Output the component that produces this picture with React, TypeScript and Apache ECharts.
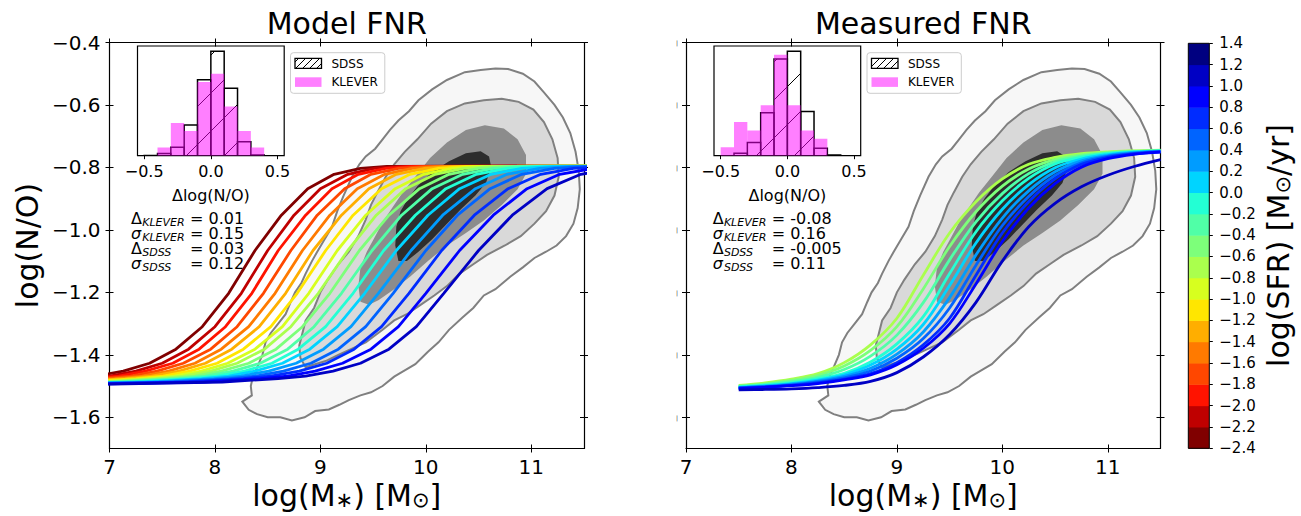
import { useEffect, useRef } from 'react';
import * as echarts from 'echarts';

const FONT = 'DejaVu Sans';

// ---------- axes ----------
const massRange = [7, 11.5];
const noRange = [-1.7, -0.4];
const massTicks = [7, 8, 9, 10, 11];
const noTicks = [-1.6, -1.4, -1.2, -1.0, -0.8, -0.6, -0.4];

// ---------- SFR colour scale (discrete, 0.2 dex bins) ----------
const sfrEdges = [-2.4, -2.2, -2.0, -1.8, -1.6, -1.4, -1.2, -1.0, -0.8, -0.6, -0.4, -0.2, 0.0, 0.2, 0.4, 0.6, 0.8, 1.0, 1.2, 1.4];
const sfrColors = ['#800000', '#bf0000', '#ff1300', '#ff4700', '#ff7a00', '#ffae00', '#ffe600', '#d7ff1f', '#aaff4d', '#7dff7a', '#50ffa7', '#23ffd4', '#00d4ff', '#009cff', '#0064ff', '#002cff', '#0000ff', '#0000c4', '#000080'];

// ---------- Model FNR curves ----------
const modelSfr = [-2.3, -2.1, -1.9, -1.7, -1.5, -1.3, -1.1, -0.9, -0.7, -0.5, -0.3, -0.1, 0.1, 0.3, 0.5, 0.7, 0.9, 1.1];
// log(N/O) levels through which each model curve passes
const modelNOLevels = [-1.494, -1.487, -1.476, -1.468, -1.452, -1.427, -1.382, -1.31, -1.203, -1.066, -0.953, -0.868, -0.822, -0.803, -0.797];
// stellar mass at which each curve reaches those levels
const modelMass = [
  [5.13, 6.13, 6.63, 6.88, 7.13, 7.38, 7.63, 7.88, 8.13, 8.38, 8.63, 8.88, 9.13, 9.38, 9.63],
  [5.24, 6.24, 6.75, 7.0, 7.25, 7.5, 7.75, 8.0, 8.25, 8.5, 8.75, 9.0, 9.26, 9.51, 9.76],
  [5.33, 6.34, 6.84, 7.09, 7.34, 7.6, 7.85, 8.1, 8.35, 8.6, 8.86, 9.11, 9.36, 9.62, 9.87],
  [5.43, 6.44, 6.95, 7.2, 7.45, 7.7, 7.96, 8.21, 8.46, 8.72, 8.97, 9.23, 9.48, 9.74, 10.0],
  [5.53, 6.55, 7.05, 7.31, 7.56, 7.81, 8.06, 8.32, 8.57, 8.83, 9.09, 9.35, 9.61, 9.87, 10.13],
  [5.63, 6.64, 7.15, 7.4, 7.66, 7.91, 8.16, 8.42, 8.67, 8.93, 9.2, 9.46, 9.72, 9.99, 10.25],
  [5.73, 6.74, 7.25, 7.51, 7.76, 8.02, 8.27, 8.53, 8.78, 9.05, 9.31, 9.58, 9.85, 10.12, 10.38],
  [5.83, 6.85, 7.36, 7.61, 7.87, 8.12, 8.38, 8.64, 8.89, 9.16, 9.43, 9.71, 9.98, 10.25, 10.52],
  [5.91, 6.93, 7.44, 7.7, 7.96, 8.21, 8.47, 8.72, 8.98, 9.26, 9.53, 9.81, 10.09, 10.36, 10.64],
  [6.01, 7.04, 7.55, 7.81, 8.06, 8.32, 8.58, 8.83, 9.09, 9.37, 9.65, 9.94, 10.22, 10.5, 10.78],
  [6.11, 7.14, 7.66, 7.91, 8.17, 8.43, 8.69, 8.94, 9.2, 9.49, 9.77, 10.06, 10.35, 10.64, 10.92],
  [6.21, 7.24, 7.76, 8.02, 8.28, 8.54, 8.79, 9.05, 9.31, 9.6, 9.9, 10.19, 10.48, 10.77, 11.07],
  [6.31, 7.35, 7.87, 8.13, 8.38, 8.64, 8.9, 9.16, 9.42, 9.72, 10.02, 10.32, 10.62, 10.91, 11.21],
  [6.43, 7.47, 7.99, 8.25, 8.51, 8.77, 9.03, 9.29, 9.55, 9.86, 10.16, 10.47, 10.77, 11.08, 11.38],
  [6.56, 7.61, 8.13, 8.39, 8.65, 8.91, 9.17, 9.43, 9.69, 10.0, 10.3, 10.61, 10.91, 11.22, 11.53],
  [6.71, 7.75, 8.27, 8.53, 8.8, 9.06, 9.32, 9.58, 9.84, 10.15, 10.46, 10.78, 11.09, 11.4, 11.71],
  [6.86, 7.9, 8.43, 8.69, 8.95, 9.21, 9.48, 9.74, 10.0, 10.32, 10.64, 10.96, 11.27, 11.59, 11.91],
  [7.02, 8.07, 8.6, 8.86, 9.12, 9.38, 9.65, 9.91, 10.17, 10.5, 10.82, 11.15, 11.47, 11.8, 12.12],
];
const modelLowTail = [4.5, -1.495];
const modelPlateau = [12.5, -0.795];

// ---------- Measured FNR curves ----------
const measuredSfr = [-0.7, -0.5, -0.3, -0.1, 0.1, 0.3, 0.5, 0.7, 0.9, 1.1];
const measuredMass = [7.5, 7.75, 8.0, 8.25, 8.5, 8.75, 9.0, 9.25, 9.5, 9.75, 10.0, 10.25, 10.5, 10.75, 11.0, 11.25, 11.5];
const measuredNO = [
  [-1.498, -1.49, -1.478, -1.46, -1.425, -1.368, -1.283, -1.145, -1.01, -0.91, -0.837, -0.79, -0.768, -0.756, -0.75, -0.747, -0.745],
  [-1.5, -1.493, -1.482, -1.466, -1.436, -1.386, -1.31, -1.189, -1.053, -0.942, -0.86, -0.805, -0.775, -0.76, -0.752, -0.748, -0.746],
  [-1.501, -1.495, -1.486, -1.472, -1.447, -1.404, -1.337, -1.233, -1.096, -0.974, -0.884, -0.82, -0.782, -0.764, -0.754, -0.749, -0.746],
  [-1.503, -1.498, -1.49, -1.477, -1.459, -1.423, -1.365, -1.278, -1.14, -1.006, -0.907, -0.835, -0.789, -0.768, -0.756, -0.75, -0.747],
  [-1.504, -1.499, -1.492, -1.481, -1.464, -1.433, -1.382, -1.303, -1.178, -1.042, -0.934, -0.855, -0.801, -0.773, -0.759, -0.751, -0.748],
  [-1.505, -1.501, -1.494, -1.484, -1.469, -1.443, -1.398, -1.327, -1.217, -1.08, -0.962, -0.875, -0.814, -0.779, -0.762, -0.753, -0.749],
  [-1.506, -1.502, -1.496, -1.487, -1.474, -1.452, -1.411, -1.348, -1.25, -1.113, -0.986, -0.893, -0.826, -0.785, -0.765, -0.755, -0.749],
  [-1.507, -1.503, -1.498, -1.49, -1.478, -1.46, -1.425, -1.368, -1.283, -1.145, -1.01, -0.91, -0.837, -0.79, -0.768, -0.756, -0.75],
  [-1.508, -1.504, -1.499, -1.492, -1.48, -1.464, -1.432, -1.379, -1.3, -1.173, -1.037, -0.93, -0.852, -0.799, -0.772, -0.758, -0.751],
  [-1.512, -1.511, -1.509, -1.505, -1.498, -1.485, -1.457, -1.407, -1.335, -1.232, -1.1, -0.99, -0.915, -0.862, -0.825, -0.797, -0.775],
];

// ---------- SDSS density contours ----------
const contourOuter = [[8.26, -1.55], [8.35, -1.53], [8.34, -1.5], [8.36, -1.47], [8.4, -1.44], [8.45, -1.4], [8.48, -1.36], [8.53, -1.33], [8.6, -1.3], [8.67, -1.27], [8.72, -1.23], [8.76, -1.2], [8.82, -1.17], [8.86, -1.14], [8.92, -1.1], [8.97, -1.07], [9.04, -1.03], [9.11, -0.99], [9.16, -0.94], [9.22, -0.89], [9.3, -0.83], [9.37, -0.79], [9.43, -0.765], [9.52, -0.74], [9.59, -0.71], [9.66, -0.68], [9.74, -0.65], [9.84, -0.62], [9.93, -0.585], [10.06, -0.55], [10.2, -0.52], [10.37, -0.495], [10.52, -0.488], [10.66, -0.483], [10.78, -0.485], [10.92, -0.5], [11.03, -0.525], [11.12, -0.56], [11.22, -0.6], [11.3, -0.64], [11.37, -0.69], [11.42, -0.75], [11.45, -0.81], [11.46, -0.87], [11.44, -0.93], [11.4, -0.98], [11.33, -1.02], [11.24, -1.05], [11.14, -1.07], [11.03, -1.09], [10.92, -1.12], [10.8, -1.15], [10.66, -1.19], [10.55, -1.21], [10.45, -1.25], [10.35, -1.28], [10.22, -1.32], [10.12, -1.36], [10.02, -1.39], [9.9, -1.43], [9.8, -1.45], [9.7, -1.47], [9.59, -1.5], [9.48, -1.52], [9.38, -1.53], [9.27, -1.545], [9.18, -1.56], [9.08, -1.575], [8.95, -1.58], [8.85, -1.6], [8.73, -1.61], [8.62, -1.6], [8.5, -1.6], [8.4, -1.59], [8.32, -1.576]];
const contourMid = [[8.86, -1.44], [8.81, -1.41], [8.8, -1.37], [8.83, -1.33], [8.86, -1.29], [8.94, -1.25], [9.0, -1.2], [9.07, -1.16], [9.17, -1.11], [9.27, -1.07], [9.36, -1.02], [9.43, -0.967], [9.48, -0.92], [9.54, -0.88], [9.62, -0.83], [9.7, -0.79], [9.8, -0.75], [9.92, -0.71], [10.05, -0.66], [10.2, -0.62], [10.37, -0.595], [10.55, -0.585], [10.72, -0.58], [10.88, -0.59], [11.02, -0.615], [11.12, -0.655], [11.2, -0.71], [11.25, -0.77], [11.26, -0.83], [11.22, -0.89], [11.14, -0.94], [11.03, -0.98], [10.9, -1.02], [10.75, -1.05], [10.58, -1.08], [10.45, -1.11], [10.32, -1.14], [10.2, -1.18], [10.08, -1.21], [9.95, -1.24], [9.82, -1.27], [9.7, -1.29], [9.59, -1.32], [9.43, -1.36], [9.3, -1.38], [9.17, -1.4], [9.05, -1.42], [8.95, -1.43]];
const contourInner = [[9.38, -1.23], [9.36, -1.18], [9.38, -1.12], [9.44, -1.07], [9.52, -1.02], [9.6, -0.97], [9.68, -0.93], [9.78, -0.88], [9.9, -0.83], [10.04, -0.77], [10.2, -0.72], [10.38, -0.68], [10.56, -0.665], [10.74, -0.675], [10.87, -0.71], [10.95, -0.76], [10.95, -0.82], [10.87, -0.87], [10.72, -0.92], [10.55, -0.97], [10.38, -1.01], [10.2, -1.05], [10.02, -1.1], [9.85, -1.15], [9.7, -1.19], [9.55, -1.225], [9.46, -1.24]];
const contourCore = [[9.74, -1.1], [9.71, -1.05], [9.72, -0.99], [9.76, -0.94], [9.83, -0.9], [9.92, -0.86], [10.06, -0.815], [10.22, -0.78], [10.38, -0.755], [10.52, -0.748], [10.6, -0.765], [10.62, -0.8], [10.57, -0.85], [10.47, -0.89], [10.33, -0.935], [10.2, -0.98], [10.06, -1.03], [9.93, -1.07], [9.82, -1.1]];
const sdssContours = [contourOuter, contourMid, contourInner, contourCore];
const contourFill = ['#f7f7f7', '#d9d9d9', '#8c8c8c', '#2d2d2d'];
const contourStroke = ['#808080', '#808080', null, null];

// ---------- inset histograms of Δlog(N/O) ----------
const histEdges = [-0.5, -0.4, -0.3, -0.2, -0.1, 0.0, 0.1, 0.2, 0.3, 0.4, 0.5];
const histTicks = [-0.5, 0, 0.5];
const modelSdssHist = [0.01, 0.07, 0.28, 1.01, 2.5, 3.44, 2.22, 0.46, 0.02, 0];
const modelKleverHist = [0, 0.27, 1.08, 0.81, 2.43, 2.7, 1.62, 0.81, 0.27, 0];
const measuredSdssHist = [0.0, 0.08, 0.42, 1.38, 3.1, 3.35, 1.42, 0.24, 0.02, 0];
const measuredKleverHist = [0.27, 1.08, 0.81, 1.62, 3.24, 1.62, 0.81, 0.54, 0, 0];
const statSymbols = ['\u0394', '\u03c3', '\u0394', '\u03c3'];
const statSamples = ['KLEVER', 'KLEVER', 'SDSS', 'SDSS'];
const modelStats = ['0.01', '0.15', '0.03', '0.12'];
const measuredStats = ['-0.08', '0.16', '-0.005', '0.11'];

// ---------- layout ----------
const TOP = 42.5, W = 474.5, H = 406;
const panels = [
  { left: 109.5, title: 'Model FNR', annotX: 131, eqX: 190, stats: modelStats, sdss: modelSdssHist, klever: modelKleverHist, yMarks: false },
  { left: 686, title: 'Measured FNR', annotX: 712.7, eqX: 771.7, stats: measuredStats, sdss: measuredSdssHist, klever: measuredKleverHist, yMarks: true },
];
const INSET = { dx: 28, top: 46, w: 146.7, h: 109.7 };
const CBAR = { left: 1188.3, top: 43.3, w: 21, h: 405 };

const minus = (v: number, d: number) => (v < 0 ? '\u2212' : '') + Math.abs(v).toFixed(d);
const colorOf = (v: number) => {
  for (let i = 0; i < sfrColors.length; i++) if (v >= sfrEdges[i] && v < sfrEdges[i + 1]) return sfrColors[i];
  return sfrColors[sfrColors.length - 1];
};

function hatch(x0: number, x1: number, yTop: number, yBot: number, step: number, style: any) {
  const out: any[] = [];
  const kMin = Math.ceil((x0 + yTop) / step), kMax = Math.floor((x1 + yBot) / step);
  for (let k = kMin; k <= kMax; k++) {
    const c = k * step;
    const xs = Math.max(x0, c - yBot), xe = Math.min(x1, c - yTop);
    if (xe - xs > 0.5) out.push({ type: 'line', shape: { x1: xs, y1: c - xs, x2: xe, y2: c - xe }, style });
  }
  return out;
}

function frameAxes(gridIndex: number, yLabels: boolean, yMarks: boolean) {
  const xa: any[] = [], ya: any[] = [];
  for (const pos of ['bottom', 'top']) {
    for (const inside of [false, true]) {
      xa.push({
        type: 'value', gridIndex, position: pos, min: massRange[0], max: massRange[1],
        axisLine: { show: !inside, onZero: false, lineStyle: { color: '#000', width: 1.2 } },
        axisTick: { show: true, inside, length: 4, customValues: massTicks, lineStyle: { color: '#000', width: 1 } },
        axisLabel: { show: pos === 'bottom' && !inside, customValues: massTicks, margin: 8, fontSize: 20, fontFamily: FONT, color: '#000', formatter: (v: number) => String(v) },
        splitLine: { show: false },
      });
    }
  }
  for (const pos of ['left', 'right']) {
    for (const inside of [false, true]) {
      const main = pos === 'left' && !inside;
      ya.push({
        type: 'value', gridIndex, position: pos, min: noRange[0], max: noRange[1],
        axisLine: { show: !inside, onZero: false, lineStyle: { color: '#000', width: 1.2 } },
        axisTick: { show: true, inside, length: 4, customValues: noTicks, lineStyle: { color: '#000', width: 1 } },
        axisLabel: main && yLabels
          ? { show: true, customValues: noTicks, margin: 9, fontSize: 20, fontFamily: FONT, color: '#000', formatter: (v: number) => minus(v, 1) }
          : main && yMarks
            ? { show: true, customValues: noTicks, margin: 8, fontSize: 6, fontFamily: FONT, color: '#333', formatter: () => '|' }
            : { show: false },
        splitLine: { show: false },
      });
    }
  }
  return { xa, ya };
}

function buildOption() {
  const grids: any[] = [];
  const xAxes: any[] = [];
  const yAxes: any[] = [];
  const series: any[] = [];
  const graphics: any[] = [];

  panels.forEach((p, pi) => {
    grids.push({ left: p.left, top: TOP, width: W, height: H, outerBoundsMode: 'none', containLabel: false });
    const { xa, ya } = frameAxes(pi, pi === 0, p.yMarks);
    xAxes.push(...xa);
    yAxes.push(...ya);
  });
  panels.forEach((p) => {
    grids.push({ left: p.left + INSET.dx, top: INSET.top, width: INSET.w, height: INSET.h, show: true, backgroundColor: '#fff', borderColor: '#000', borderWidth: 1.2, outerBoundsMode: 'none', containLabel: false });
  });
  panels.forEach((p, pi) => {
    const ymax = Math.max(...p.sdss, ...p.klever) * 1.05;
    xAxes.push({
      type: 'value', gridIndex: 2 + pi, position: 'bottom', min: -0.55, max: 0.55,
      axisLine: { show: false, onZero: false },
      axisTick: { show: true, inside: false, length: 3.5, customValues: histTicks, lineStyle: { color: '#000' } },
      axisLabel: { show: true, customValues: histTicks, margin: 8, fontSize: 16, fontFamily: FONT, color: '#000', formatter: (v: number) => minus(v, 1) },
      splitLine: { show: false },
    });
    yAxes.push({ type: 'value', gridIndex: 2 + pi, min: 0, max: ymax, show: false, splitLine: { show: false } });
  });
  grids.push({ left: CBAR.left, top: CBAR.top, width: CBAR.w, height: CBAR.h, outerBoundsMode: 'none', containLabel: false });
  xAxes.push({ type: 'value', gridIndex: 4, min: 0, max: 1, show: false });
  yAxes.push({
    type: 'value', gridIndex: 4, position: 'right', min: sfrEdges[0], max: sfrEdges[sfrEdges.length - 1],
    axisLine: { show: false, onZero: false },
    axisTick: { show: true, inside: false, length: 3.5, customValues: sfrEdges, lineStyle: { color: '#000' } },
    axisLabel: { show: true, customValues: sfrEdges, margin: 10, fontSize: 15, fontFamily: FONT, color: '#000', formatter: (v: number) => minus(v, 1) },
    splitLine: { show: false },
  });

  panels.forEach((_, pi) => {
    series.push({
      type: 'custom', xAxisIndex: pi * 4, yAxisIndex: pi * 4, silent: true, clip: true, z: 1,
      data: sdssContours.map((c, i) => [c[0][0], c[0][1], i]),
      renderItem: (params: any, api: any) => {
        const lvl = api.value(2);
        const pts = sdssContours[lvl].map((q) => api.coord(q));
        return {
          type: 'polygon', shape: { points: pts },
          style: { fill: contourFill[lvl], stroke: contourStroke[lvl] || 'none', lineWidth: 2 },
        };
      },
    });
  });

  modelMass.forEach((masses, k) => {
    const pts = [modelLowTail, ...masses.map((m, i) => [m, modelNOLevels[i]]), modelPlateau];
    series.push({
      type: 'line', xAxisIndex: 0, yAxisIndex: 0, data: pts, showSymbol: false, symbol: 'none', silent: true, clip: true, z: 3,
      lineStyle: { color: colorOf(modelSfr[k]), width: 2.8 },
    });
  });
  measuredNO.forEach((ys, k) => {
    series.push({
      type: 'line', xAxisIndex: 4, yAxisIndex: 4, data: measuredMass.map((m, i) => [m, ys[i]]), showSymbol: false, symbol: 'none', silent: true, clip: true, z: 3, smooth: 0.35,
      lineStyle: { color: colorOf(measuredSfr[k]), width: 2.8 },
    });
  });

  panels.forEach((p, pi) => {
    const ai = 8 + pi;
    series.push({
      type: 'custom', xAxisIndex: ai, yAxisIndex: ai, silent: true, clip: true, z: 3,
      data: p.sdss.map((h, i) => [histEdges[i], histEdges[i + 1], h]).filter((d) => d[2] > 0),
      renderItem: (params: any, api: any) => {
        const a = api.coord([api.value(0), 0]);
        const b = api.coord([api.value(1), api.value(2)]);
        const x0 = a[0], x1 = b[0], yBot = a[1], yTop = b[1];
        return {
          type: 'group',
          children: [
            ...hatch(x0, x1, yTop, yBot, 38, { stroke: '#000', lineWidth: 1 }),
            { type: 'rect', shape: { x: x0, y: yTop, width: x1 - x0, height: yBot - yTop }, style: { fill: 'none', stroke: '#000', lineWidth: 1.5 } },
          ],
        };
      },
    });
    series.push({
      type: 'custom', xAxisIndex: ai, yAxisIndex: ai, silent: true, clip: true, z: 4,
      data: p.klever.map((h, i) => [histEdges[i], histEdges[i + 1], h]).filter((d) => d[2] > 0),
      renderItem: (params: any, api: any) => {
        const a = api.coord([api.value(0), 0]);
        const b = api.coord([api.value(1), api.value(2)]);
        return { type: 'rect', shape: { x: a[0], y: b[1], width: b[0] - a[0], height: a[1] - b[1] }, style: { fill: 'rgba(255,0,255,0.5)' } };
      },
    });
  });

  series.push({
    type: 'custom', xAxisIndex: 10, yAxisIndex: 10, silent: true, z: 2,
    data: sfrColors.map((c, i) => [0, sfrEdges[i], sfrEdges[i + 1], i]),
    renderItem: (params: any, api: any) => {
      const a = api.coord([0, api.value(1)]);
      const b = api.coord([1, api.value(2)]);
      return { type: 'rect', shape: { x: a[0], y: b[1], width: b[0] - a[0], height: a[1] - b[1] + 0.5 }, style: { fill: sfrColors[api.value(3)] } };
    },
  });
  series.push({
    type: 'custom', xAxisIndex: 10, yAxisIndex: 10, silent: true, z: 3,
    data: [[0, sfrEdges[0], sfrEdges[sfrEdges.length - 1]]],
    renderItem: (params: any, api: any) => {
      const a = api.coord([0, api.value(1)]);
      const b = api.coord([1, api.value(2)]);
      return { type: 'rect', shape: { x: a[0], y: b[1], width: b[0] - a[0], height: a[1] - b[1] }, style: { fill: 'none', stroke: '#000', lineWidth: 1 } };
    },
  });

  const subRich = (size: number, sub: number) => ({
    a: { fontSize: size, fontFamily: FONT, fill: '#000', lineHeight: size },
    s: { fontSize: sub, fontFamily: FONT, fill: '#000', verticalAlign: 'bottom', lineHeight: sub * 0.55 },
  });
  const ROW = 15.1, ROW0 = 218;
  panels.forEach((p) => {
    const cx = p.left + W / 2;
    graphics.push({ type: 'text', x: cx, y: 23, silent: true, style: { text: p.title, fontSize: 30, fontFamily: FONT, fill: '#000', textAlign: 'center', textVerticalAlign: 'middle' } });
    graphics.push({ type: 'text', x: cx, y: 495, silent: true, style: { text: '{a|log(M}{s|\u2217}{a|) [M}{s|\u2299}{a|]}', rich: subRich(30, 21), textAlign: 'center', textVerticalAlign: 'middle' } });
    const ix = p.left + INSET.dx + INSET.w / 2;
    graphics.push({ type: 'text', x: ix, y: 195.5, silent: true, style: { text: '\u0394log(N/O)', fontSize: 16, fontFamily: FONT, fill: '#000', textAlign: 'center', textVerticalAlign: 'middle', lineHeight: 15 } });
    const lx = p.left + 181;
    graphics.push({ type: 'rect', silent: true, shape: { x: lx, y: 52.7, width: 94.3, height: 40.6, r: 3 }, style: { fill: 'rgba(255,255,255,0.8)', stroke: '#cccccc', lineWidth: 1 } });
    const px0 = lx + 4.5, px1 = lx + 31, pyT = 58.3, pyB = 68.3;
    graphics.push({ type: 'group', silent: true, children: [
      { type: 'rect', shape: { x: px0, y: pyT, width: px1 - px0, height: pyB - pyT }, style: { fill: '#fff', stroke: 'none' } },
      ...hatch(px0, px1, pyT, pyB, 7, { stroke: '#000', lineWidth: 1 }),
      { type: 'rect', shape: { x: px0, y: pyT, width: px1 - px0, height: pyB - pyT }, style: { fill: 'none', stroke: '#000', lineWidth: 1.3 } },
    ] });
    graphics.push({ type: 'rect', silent: true, shape: { x: px0, y: 77.3, width: px1 - px0, height: 9.6 }, style: { fill: 'rgba(255,0,255,0.5)' } });
    graphics.push({ type: 'text', silent: true, x: lx + 41, y: 63.5, style: { text: 'SDSS', fontSize: 12, fontFamily: FONT, fill: '#000', textAlign: 'left', textVerticalAlign: 'middle', lineHeight: 12 } });
    graphics.push({ type: 'text', silent: true, x: lx + 41, y: 82.3, style: { text: 'KLEVER', fontSize: 12, fontFamily: FONT, fill: '#000', textAlign: 'left', textVerticalAlign: 'middle', lineHeight: 12 } });
    const n = statSymbols.length;
    const midY = ROW0 + (ROW * (n - 1)) / 2;
    graphics.push({ type: 'text', silent: true, x: p.annotX, y: midY, style: {
      text: statSymbols.map((s) => (s === '\u03c3' ? '{i|' : '{u|') + s + '}').join('\n'),
      rich: {
        u: { fontSize: 16, fontFamily: FONT, fill: '#000', lineHeight: ROW },
        i: { fontSize: 16, fontFamily: FONT, fontStyle: 'italic', fill: '#000', lineHeight: ROW },
      },
      textAlign: 'left', textVerticalAlign: 'middle',
    } });
    graphics.push({ type: 'text', silent: true, x: p.annotX + 11.2, y: midY + 4, style: {
      text: statSamples.join('\n'), fontSize: 11, fontFamily: FONT, fontStyle: 'italic', fill: '#000', lineHeight: ROW,
      textAlign: 'left', textVerticalAlign: 'middle',
    } });
    graphics.push({ type: 'text', silent: true, x: p.eqX, y: midY, style: {
      text: p.stats.map((s) => '= ' + s).join('\n'), fontSize: 16, fontFamily: FONT, fill: '#000', lineHeight: ROW,
      textAlign: 'left', textVerticalAlign: 'middle',
    } });
  });
  graphics.push({ type: 'text', x: 27, y: 245.5, rotation: Math.PI / 2, silent: true, style: { text: 'log(N/O)', fontSize: 30, fontFamily: FONT, fill: '#000', textAlign: 'center', textVerticalAlign: 'middle' } });
  graphics.push({ type: 'text', x: 1278, y: 245.5, rotation: Math.PI / 2, silent: true, style: { text: '{a|log(SFR) [M}{s|\u2299}{a|/yr]}', rich: subRich(30, 21), textAlign: 'center', textVerticalAlign: 'middle' } });

  return {
    animation: false,
    backgroundColor: '#fff',
    grid: grids,
    xAxis: xAxes,
    yAxis: yAxes,
    series,
    graphic: { elements: graphics },
  };
}

export default function App() {
  const ref = useRef<HTMLDivElement>(null);
  useEffect(() => {
    const chart = echarts.init(ref.current!, null, { renderer: 'svg' });
    chart.setOption(buildOption() as any);
    return () => chart.dispose();
  }, []);
  return <div ref={ref} style={{ position: 'fixed', left: 0, top: 0, width: 1301, height: 516, background: '#fff' }} />;
}
